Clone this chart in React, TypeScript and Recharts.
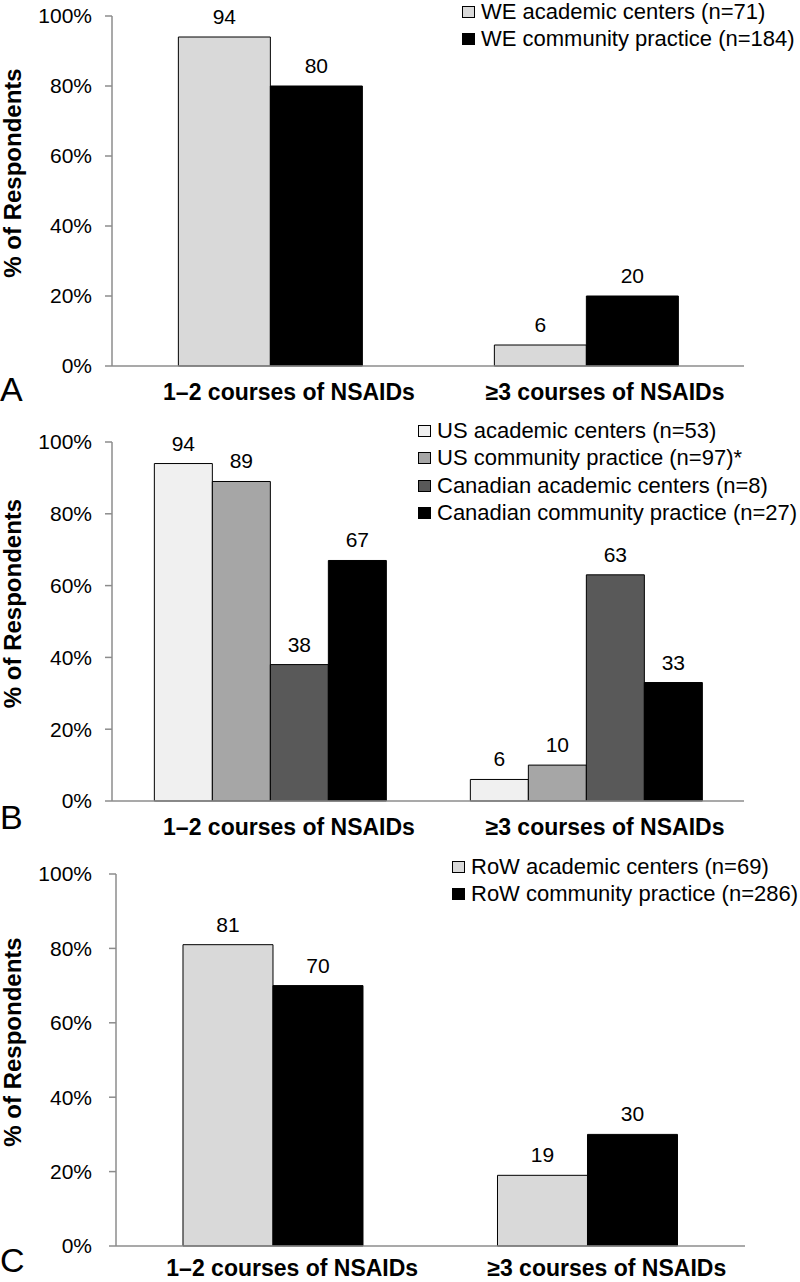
import { Bar, BarChart, Label, LabelList, Legend, XAxis, YAxis } from "recharts";

const categories = ["1\u20132 courses of NSAIDs", "\u22653 courses of NSAIDs"];
const yTicks = [0, 20, 40, 60, 80, 100];

// panel A - Western Europe
const weAcademic = [94, 6];
const weCommunity = [80, 20];

// panel B - US / Canada
const usAcademic = [94, 6];
const usCommunity = [89, 10];
const caAcademic = [38, 63];
const caCommunity = [67, 33];

// panel C - rest of world
const rowAcademic = [81, 19];
const rowCommunity = [70, 30];

const AXIS = "#8c8c8c";
const FONT = "'Liberation Sans', Arial, Helvetica, sans-serif";

type Series = { key: string; name: string; color: string; values: number[] };

interface PanelProps {
  top: number;
  height: number;
  margin: { top: number; right: number; bottom: number; left: number };
  yWidth: number;
  yTickMargin: number;
  xTickMargin: number;
  series: Series[];
  gap: string;
  letter: string;
  letterDy: number;
  legendTop: number;
  legendLeft: number;
}

const Panel = ({
  top,
  height,
  margin,
  yWidth,
  yTickMargin,
  xTickMargin,
  series,
  gap,
  letter,
  letterDy,
  legendTop,
  legendLeft
}: PanelProps) => {
  const data = categories.map((name, i) => {
    const row: Record<string, string | number> = { name };
    series.forEach((s) => {
      row[s.key] = s.values[i];
    });
    return row;
  });

  const renderTitle = (props: any) => {
    const vb = props.viewBox;
    const cy = vb.y + vb.height / 2 - 18;
    return (
      <g>
        <text
          x={21}
          y={cy}
          transform={`rotate(-90, 21, ${cy})`}
          textAnchor="middle"
          fontSize={24}
          fontWeight={700}
          fill="#000"
        >
          % of Respondents
        </text>
        <text x={0} y={vb.y + vb.height + letterDy} fontSize={34} fill="#000">
          {letter}
        </text>
      </g>
    );
  };

  const renderLegend = () => (
    <div style={{ fontFamily: FONT, fontSize: 22, color: "#000", whiteSpace: "nowrap" }}>
      {series.map((s) => (
        <div
          key={s.key}
          style={{ display: "flex", alignItems: "center", height: 20, lineHeight: "20px", marginBottom: 7.3 }}
        >
          <span
            style={{
              display: "inline-block",
              width: 13,
              height: 12,
              boxSizing: "border-box",
              border: "1px solid #000",
              background: s.color,
              marginRight: 6
            }}
          />
          <span>{s.name}</span>
        </div>
      ))}
    </div>
  );

  return (
    <div style={{ position: "absolute", left: 0, top, width: 800, height }}>
      <BarChart
        width={800}
        height={height}
        data={data}
        margin={margin}
        barGap={0}
        barCategoryGap={gap}
        style={{ fontFamily: FONT }}
      >
        <XAxis
          dataKey="name"
          height={1}
          axisLine={{ stroke: AXIS, strokeWidth: 1.5 }}
          tickLine={false}
          tickSize={0}
          tickMargin={xTickMargin}
          interval={0}
          tick={{ fontSize: 23, fontWeight: 700, fill: "#000", dx: 19 }}
        />
        <XAxis
          xAxisId="edge"
          type="number"
          domain={[0, 2]}
          ticks={[0, 1, 2]}
          allowDataOverflow
          tick={false}
          axisLine={false}
          tickLine={{ stroke: AXIS, strokeWidth: 1.5 }}
          tickSize={8}
          height={1}
        />
        <YAxis
          width={yWidth}
          domain={[0, 100]}
          ticks={yTicks}
          tickFormatter={(v) => `${v}%`}
          axisLine={{ stroke: AXIS, strokeWidth: 1.5 }}
          tickLine={{ stroke: AXIS, strokeWidth: 1.5 }}
          tickSize={7}
          tickMargin={yTickMargin}
          tick={{ fontSize: 21, fill: "#000" }}
        >
          <Label content={renderTitle} />
        </YAxis>
        <Legend
          layout="vertical"
          align="center"
          verticalAlign="middle"
          content={renderLegend}
          wrapperStyle={{ top: legendTop, left: legendLeft, width: "auto", height: "auto" }}
        />
        {series.map((s) => (
          <Bar
            key={s.key}
            dataKey={s.key}
            name={s.name}
            fill={s.color}
            stroke="#000"
            strokeWidth={1}
            isAnimationActive={false}
          >
            <LabelList dataKey={s.key} position="top" offset={13} fill="#000" fontSize={21} />
          </Bar>
        ))}
      </BarChart>
    </div>
  );
};

export default function App() {
  return (
    <div
      style={{
        position: "absolute",
        left: 0,
        top: 0,
        width: 800,
        height: 1282,
        background: "#fff",
        overflow: "hidden",
        fontFamily: FONT
      }}
    >
      <Panel
        top={0}
        height={410}
        margin={{ top: 16, right: 56, bottom: 42, left: 0 }}
        yWidth={112}
        yTickMargin={13}
        xTickMargin={18}
        gap="21%"
        letter="A"
        letterDy={35}
        legendTop={2}
        legendLeft={462}
        series={[
          { key: "weA", name: "WE academic centers (n=71)", color: "#d9d9d9", values: weAcademic },
          { key: "weC", name: "WE community practice (n=184)", color: "#000000", values: weCommunity }
        ]}
      />
      <Panel
        top={410}
        height={430}
        margin={{ top: 32, right: 56, bottom: 37, left: 0 }}
        yWidth={112}
        yTickMargin={13}
        xTickMargin={18}
        gap="13.4%"
        letter="B"
        letterDy={28}
        legendTop={11}
        legendLeft={418}
        series={[
          { key: "usA", name: "US academic centers (n=53)", color: "#f0f0f0", values: usAcademic },
          { key: "usC", name: "US community practice (n=97)*", color: "#a6a6a6", values: usCommunity },
          { key: "caA", name: "Canadian academic centers (n=8)", color: "#595959", values: caAcademic },
          { key: "caC", name: "Canadian community practice (n=27)", color: "#000000", values: caCommunity }
        ]}
      />
      <Panel
        top={840}
        height={442}
        margin={{ top: 34, right: 55, bottom: 34, left: 0 }}
        yWidth={116}
        yTickMargin={17}
        xTickMargin={14}
        gap="21.3%"
        letter="C"
        letterDy={26}
        legendTop={17}
        legendLeft={452}
        series={[
          { key: "rowA", name: "RoW academic centers (n=69)", color: "#d9d9d9", values: rowAcademic },
          { key: "rowC", name: "RoW community practice (n=286)", color: "#000000", values: rowCommunity }
        ]}
      />
    </div>
  );
}
